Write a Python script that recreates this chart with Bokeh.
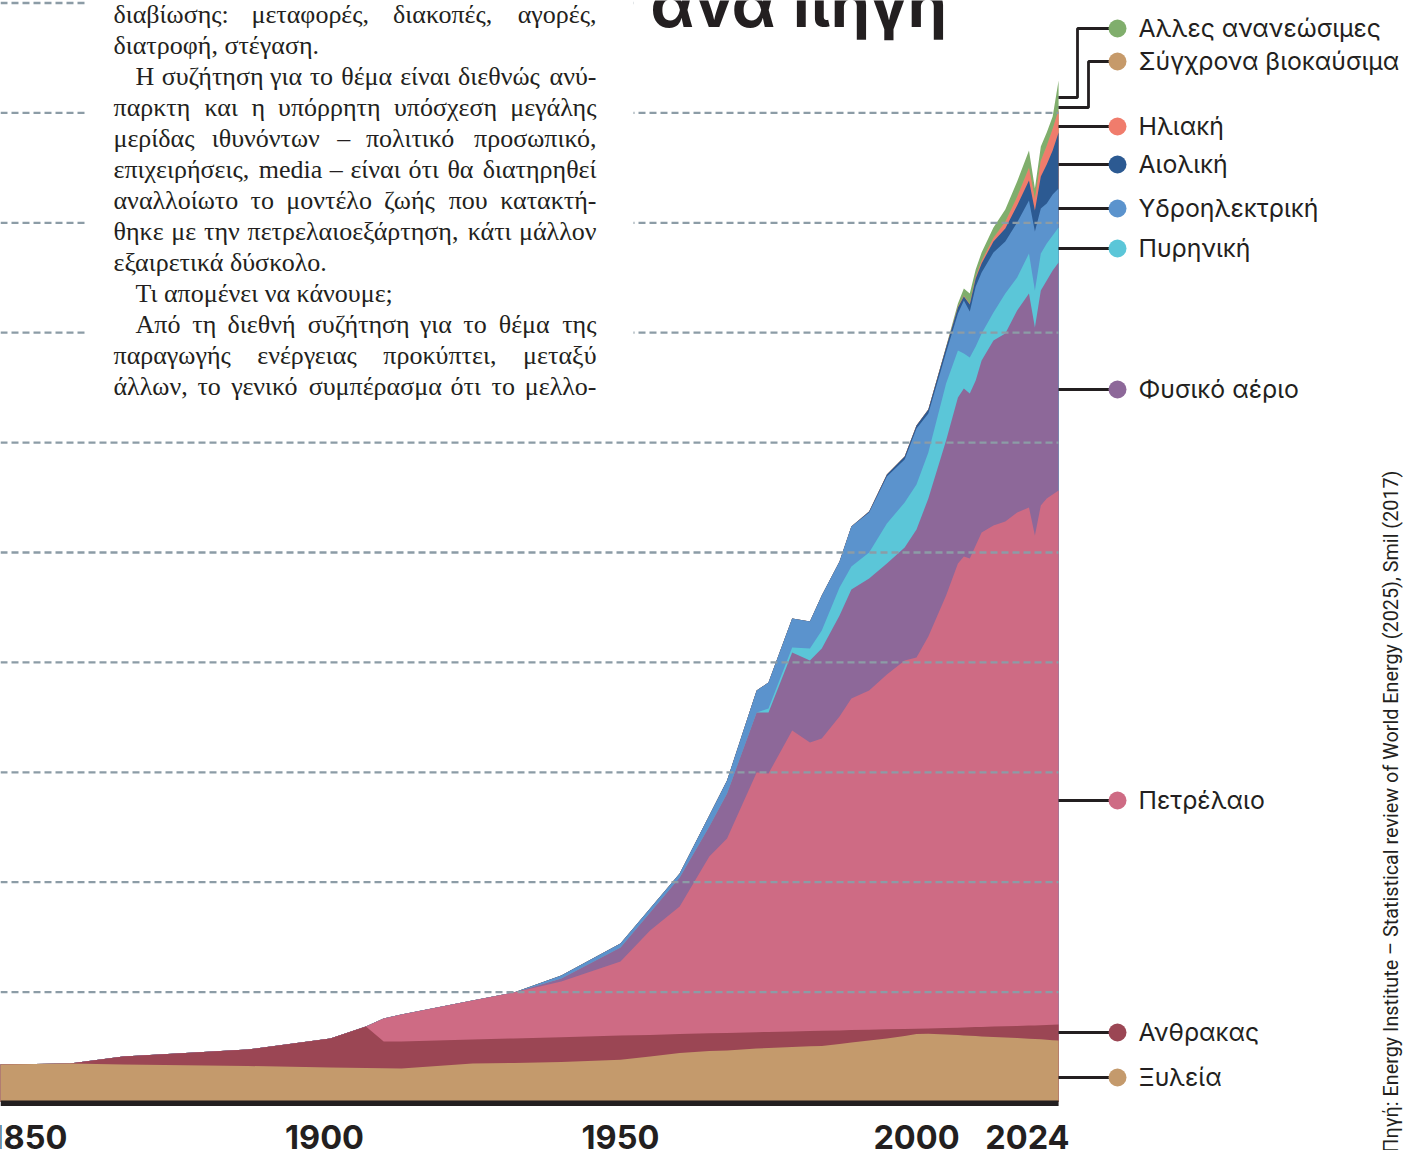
import numpy as np
from bokeh.plotting import figure
from bokeh.models import Range1d
from bokeh.core.properties import value
from bokeh.embed import file_html
from bokeh.resources import INLINE

# ---------------- data (TWh) ----------------
years = [1845, 1857, 1866, 1887, 1901, 1907, 1910, 1913, 1925, 1932,
         1940, 1950, 1955, 1960, 1965, 1968, 1973, 1975, 1979, 1982,
         1984, 1987, 1989, 1992, 1995, 1998, 2000, 2002, 2005, 2007,
         2008, 2009, 2010, 2011, 2013, 2015, 2017, 2019, 2020, 2021,
         2022, 2023, 2024]

wood = [6820, 7010, 6820, 6550, 6280, 6190, 6150, 6100, 7010, 7100,
        7280, 7700, 8280, 8920, 9280, 9370, 9740, 9830, 10010, 10140,
        10210, 10540, 10830, 11190, 11560, 12010, 12370, 12410, 12280, 12170,
        12100, 12050, 11990, 11940, 11830, 11740, 11650, 11520, 11460, 11410,
        11340, 11260, 11190]

coal = [0, 0, 1460, 3000, 5280, 7550, 4860, 4910, 4370, 4460,
        4510, 4400, 3930, 3440, 3220, 3200, 2970, 2910, 2820, 2780,
        2750, 2490, 2260, 1970, 1670, 1290, 980, 960, 1200, 1360,
        1470, 1550, 1640, 1730, 1890, 2060, 2200, 2400, 2470, 2570,
        2680, 2780, 2910]

oil = [0, 0, 0, 0, 0, 0, 4190, 4910, 7100, 8370,
       10140, 13470, 19000, 23220, 32170, 35380, 47260, 47040, 54780, 52500,
       53190, 57120, 60350, 61730, 64570, 67040, 67530, 71340, 78690, 84460,
       85690, 85310, 87640, 89970, 91190, 91850, 93430, 94270, 89150, 94580,
       95810, 96500, 97180]

gas = [0, 0, 0, 0, 0, 0, 0, 0, 0, 0,
       550, 2550, 3280, 5280, 5460, 8190, 10920, 11100, 14190, 14920,
       16380, 18380, 19840, 20380, 20200, 20560, 23290, 25110, 28210, 30210,
       30570, 30030, 30030, 31300, 33670, 34210, 36760, 38940, 37850, 39130,
       39670, 40760, 41490]

nuclear = [0, 0, 0, 0, 0, 0, 0, 0, 0, 0,
           0, 0, 0, 0, 0, 0, 0, 730, 910, 2180,
           3280, 5100, 4190, 4730, 7280, 8190, 8190, 8370, 10370, 8550,
           6370, 6550, 6190, 4910, 5100, 7280, 6010, 7280, 6730, 6730,
           6730, 6370, 6370]

hydro = [0, 0, 0, 0, 0, 0, 0, 0, 0, 0,
         550, 730, 730, 730, 2000, 2370, 4000, 4730, 5280, 4910,
         6370, 4730, 7280, 7280, 8550, 7830, 10190, 7100, 5640, 6730,
         9640, 8370, 10920, 11100, 10920, 9460, 10010, 9640, 10740, 8190,
         7280, 7460, 7100]

wind = [0, 0, 0, 0, 0, 0, 0, 0, 0, 0,
        0, 0, 0, 0, 0, 0, 0, 0, 0, 0,
        0, 0, 0, 180, 360, 550, 550, 730, 910, 1090,
        730, 1270, 1460, 1640, 2000, 2370, 3090, 3640, 3820, 5820,
        7100, 8010, 10190]

solar = [0, 0, 0, 0, 0, 0, 0, 0, 0, 0,
         0, 0, 0, 0, 0, 0, 0, 0, 0, 0,
         0, 0, 0, 0, 0, 0, 0, 0, 0, 0,
         0, 0, 180, 360, 550, 1090, 1460, 2180, 2000, 2730,
         3280, 3820, 4000]

biofuels = [0, 0, 0, 0, 0, 0, 0, 0, 0, 0,
            0, 0, 0, 0, 0, 0, 0, 0, 0, 0,
            0, 0, 0, 0, 0, 0, 0, 0, 0, 180,
            180, 180, 180, 180, 180, 180, 180, 180, 180, 180,
            180, 180, 180]

other = [0, 0, 0, 0, 0, 0, 0, 0, 0, 0,
         0, 0, 0, 0, 0, 0, 0, 0, 0, 0,
         0, 0, 0, 0, 0, 0, 0, 0, 180, 550,
         1270, 1820, 1270, 1460, 1820, 2180, 2730, 3090, 1820, 2550,
         2370, 2180, 5280]

series_names = ["Ξυλεία", "Ανθρακας", "Πετρέλαιο", "Φυσικό αέριο", "Πυρηνική",
                "Υδροηλεκτρική", "Αιολική", "Ηλιακή", "Σύγχρονα βιοκαύσιμα",
                "Αλλες ανανεώσιμες"]
grid_values = [20000, 40000, 60000, 80000, 100000, 120000, 140000, 160000,
               180000, 200000]
tick_years = [1850, 1900, 1950, 2000]
last_year = 2024

title_text = "ανά πηγή"
source_text = ("Πηγή: Energy Institute – Statistical review of World Energy (2025), "
               "Smil (2017)")
paragraph = [
    ("διαβίωσης:  μεταφορές, διακοπές, αγορές,", False, True),
    ("διατροφή, στέγαση.", False, False),
    ("Η συζήτηση για το θέμα είναι διεθνώς ανύ-", True, True),
    ("παρκτη και η υπόρρητη υπόσχεση μεγάλης", False, True),
    ("μερίδας ιθυνόντων  – πολιτικό προσωπικό,", False, True),
    ("επιχειρήσεις, media – είναι ότι θα διατηρηθεί", False, True),
    ("αναλλοίωτο το μοντέλο ζωής που κατακτή-", False, True),
    ("θηκε με την πετρελαιοεξάρτηση, κάτι μάλλον", False, True),
    ("εξαιρετικά δύσκολο.", False, False),
    ("Τι απομένει να κάνουμε;", True, False),
    ("Από τη διεθνή συζήτηση για το θέμα της", True, True),
    ("παραγωγής ενέργειας προκύπτει, μεταξύ", False, True),
    ("άλλων, το γενικό συμπέρασμα ότι το μελλο-", False, True),
]

# ---------------- styles ----------------
colors = ["#C49A6C", "#9B4654", "#CE6B84", "#8D6899", "#5BC6D8",
          "#5B93CD", "#2C5A92", "#F07C6C", "#C69A6A", "#80AE6C"]
INK = "#231F20"
GRID = "#8C9CA6"

# pixel helpers (layout positions only)
PX_PER_YEAR = 5.92
X0_PX = 28.0      # 1850
Y0_PX = 1101.5    # zero line
TWH_PER_PX = 181.98
W, H = 1403, 1150


def X(px):
    return 1850 + (px - X0_PX) / PX_PER_YEAR


def Y(py):
    return (Y0_PX - py) * TWH_PER_PX


p = figure(width=W, height=H,
           x_range=Range1d(X(0), X(W)), y_range=Range1d(Y(H), Y(0)),
           output_backend="svg", toolbar_location=None, min_border=0,
           x_axis_location=None, y_axis_location=None)
p.grid.visible = False
p.outline_line_color = None
p.background_fill_color = "white"
p.border_fill_color = "white"

# ---------------- stacked areas (painter's order) ----------------
x = np.array(years, dtype=float)
stack = np.cumsum(np.array([wood, coal, oil, gas, nuclear, hydro, wind,
                            solar, biofuels, other], dtype=float), axis=0)
for i in reversed(range(len(colors))):
    p.varea(x=x, y1=np.zeros_like(x), y2=stack[i], fill_color=colors[i])

# ---------------- dashed grid lines over the areas ----------------
n = len(grid_values)
p.segment(x0=[X(0)] * n, x1=[last_year] * n, y0=grid_values, y1=grid_values,
          line_color=GRID, line_width=2.3, line_dash="7 4")

# white panels of the article text and of the title
p.quad(left=X(87), right=X(633), bottom=Y(405), top=Y(-20),
       fill_color="white", line_color=None)
p.quad(left=X(633), right=X(1403), bottom=Y(40), top=Y(-20),
       fill_color="white", line_color=None)

# baseline
p.quad(left=X(0), right=last_year, top=Y(1100), bottom=Y(1105.5),
       fill_color=INK, line_color=None)

# ---------------- title (cut at the top, as in the page) ----------------
p.text(x=[X(650)], y=[Y(3)], text=[title_text], text_font=value("Inter"),
       text_font_size="63px", text_font_style="bold", text_color=INK,
       text_align="left", text_baseline="middle")

# ---------------- article paragraph ----------------
CW = {'α': .52, 'ά': .52, 'β': .5, 'γ': .45, 'δ': .5, 'ε': .43, 'έ': .43,
      'ζ': .43, 'η': .5, 'ή': .5, 'θ': .5, 'ι': .27, 'ί': .27, 'κ': .5,
      'λ': .47, 'μ': .53, 'ν': .45, 'ξ': .44, 'ο': .5, 'ό': .5, 'π': .53,
      'ρ': .5, 'σ': .52, 'ς': .42, 'τ': .43, 'υ': .48, 'ύ': .48, 'φ': .6,
      'χ': .47, 'ψ': .65, 'ω': .69, 'ώ': .69, 'Η': .72, 'Τ': .61, 'Α': .72,
      'm': .78, 'e': .44, 'd': .5, 'i': .28, 'a': .44, ',': .25, '.': .25,
      ':': .28, ';': .28, '-': .33, '–': .5, ' ': .25}


def est_w(word, size):
    return sum(CW.get(ch, .5) for ch in word) * size


FS = 26.0
L_PX, IND_PX, R_PX = 113, 135, 596
wx, wy, wt, wa = [], [], [], []
for k, (line, indent, justify) in enumerate(paragraph):
    mid = 22.5 + 31.0 * k - 0.335 * FS
    left = IND_PX if indent else L_PX
    words = line.split()
    if not justify:
        wx.append(X(left)); wy.append(Y(mid)); wt.append(" ".join(words))
        wa.append("left")
        continue
    ws = [est_w(w, FS) for w in words]
    gap = (R_PX - left - sum(ws)) / (len(words) - 1)
    cx = left
    for j, w in enumerate(words):
        if j == len(words) - 1:
            wx.append(X(R_PX)); wa.append("right")
        else:
            wx.append(X(cx)); wa.append("left")
        wy.append(Y(mid)); wt.append(w)
        cx += ws[j] + gap

for al in ("left", "right"):
    idx = [i for i, a in enumerate(wa) if a == al]
    p.text(x=[wx[i] for i in idx], y=[wy[i] for i in idx],
           text=[wt[i] for i in idx], text_font=value("Liberation Serif"),
           text_font_size=f"{FS}px", text_color=INK, text_align=al,
           text_baseline="middle")

# ---------------- x labels ----------------
p.text(x=tick_years, y=[Y(1136)] * len(tick_years),
       text=[str(t) for t in tick_years], text_font=value("Inter"),
       text_font_size="32.5px", text_font_style="bold", text_color=INK,
       text_align="center", text_baseline="middle")
p.text(x=[last_year], y=[Y(1136)], text=[str(last_year)], x_offset=11,
       text_font=value("Inter"), text_font_size="32.5px", text_font_style="bold",
       text_color=INK, text_align="right", text_baseline="middle")

# ---------------- legend with connectors ----------------
label_py = [1077, 1032, 800, 389, 248, 208, 164, 126, 61, 28]
END_PX, DOT_PX, TXT_PX = 1058, 1117, 1138
xs, ys = [], []
for i, py in enumerate(label_py):
    if i == 8:      # biofuels elbow
        pts = [(END_PX, 107), (1088, 107), (1088, py), (DOT_PX, py)]
    elif i == 9:    # other renewables elbow
        pts = [(END_PX, 97), (1077, 97), (1077, py), (DOT_PX, py)]
    else:
        pts = [(END_PX, py), (DOT_PX, py)]
    xs.append([X(a) for a, b in pts]); ys.append([Y(b) for a, b in pts])
p.multi_line(xs=xs, ys=ys, line_color=INK, line_width=2.8)
p.scatter(x=[X(DOT_PX)] * len(label_py), y=[Y(v) for v in label_py],
          size=18, fill_color=colors, line_color=None)
p.text(x=[X(TXT_PX)] * len(label_py), y=[Y(v - 1) for v in label_py],
       text=series_names, text_font=value("Inter"), text_font_size="24.8px",
       text_color=INK, text_align="left", text_baseline="middle")

# ---------------- vertical source ----------------
p.text(x=[X(1391)], y=[Y(470)], text=[source_text], angle=np.pi / 2,
       text_font=value("Roboto"), text_font_size="19.8px",
       text_color=INK, text_align="right", text_baseline="middle")

open("out.html", "w").write(file_html(p, INLINE))
